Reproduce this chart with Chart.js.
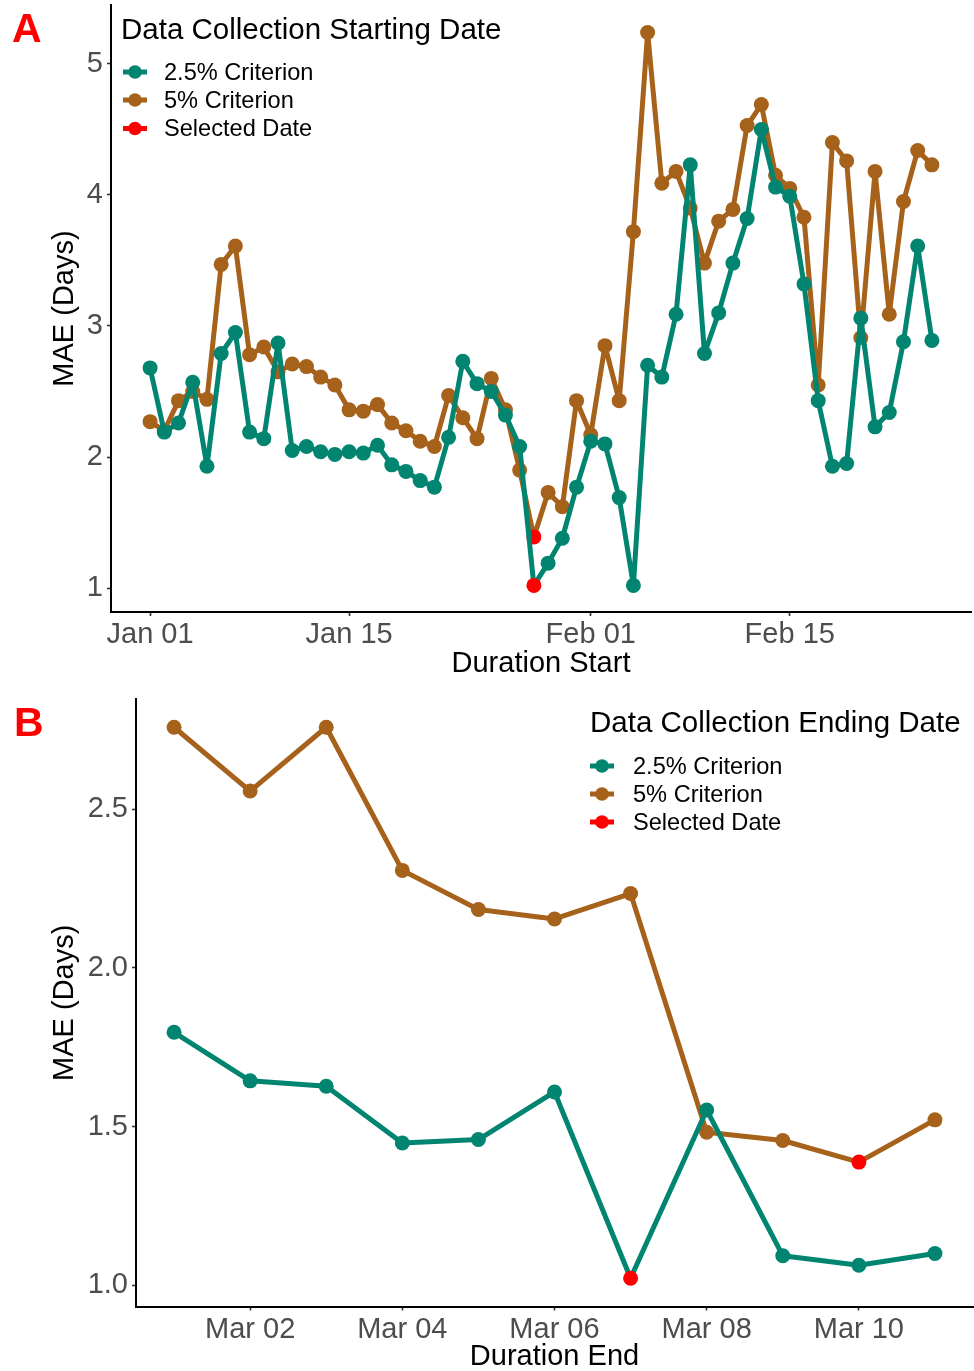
<!DOCTYPE html>
<html>
<head>
<meta charset="utf-8">
<title>MAE by data collection window</title>
<script src="https://cdn.jsdelivr.net/npm/chart.js@4.4.0/dist/chart.umd.min.js"></script>
<style>
  html, body { margin: 0; padding: 0; background: #ffffff; overflow: hidden; }
  canvas { position: absolute; left: 0; }
</style>
</head>
<body>
<canvas id="chartA"></canvas>
<canvas id="chartB"></canvas>
<script>
// ---- Panel A: MAE by data collection starting date (day 0 = Jan 01) ----
const startTickDays   = [0, 14, 31, 45];
const startTickLabels = ['Jan 01', 'Jan 15', 'Feb 01', 'Feb 15'];
const startMae25 = [
  2.68, 2.19, 2.26, 2.57, 1.93, 2.79, 2.95, 2.19, 2.14, 2.87,
  2.05, 2.08, 2.04, 2.02, 2.04, 2.03, 2.09, 1.94, 1.89, 1.82,
  1.77, 2.15, 2.73, 2.56, 2.50, 2.32, 2.08, 1.02, 1.19, 1.38,
  1.77, 2.12, 2.10, 1.69, 1.02, 2.70, 2.61, 3.09, 4.23, 2.79,
  3.10, 3.48, 3.82, 4.50, 4.06, 3.99, 3.32, 2.43, 1.93, 1.95,
  3.06, 2.23, 2.34, 2.88, 3.61, 2.89
];
const startMae5 = [
  2.27, 2.20, 2.43, 2.50, 2.44, 3.47, 3.61, 2.78, 2.84, 2.65,
  2.71, 2.69, 2.61, 2.55, 2.36, 2.35, 2.40, 2.26, 2.20, 2.12,
  2.08, 2.47, 2.30, 2.14, 2.60, 2.36, 1.90, 1.39, 1.73, 1.62,
  2.43, 2.17, 2.85, 2.43, 3.72, 5.24, 4.09, 4.18, 3.90, 3.48,
  3.80, 3.89, 4.53, 4.69, 4.15, 4.05, 3.83, 2.55, 4.40, 4.26,
  2.91, 4.18, 3.09, 3.95, 4.34, 4.23
];
const startSelected25 = 27;   // Jan 28
const startSelected5  = 27;   // Jan 28
const startYTicks  = [1, 2, 3, 4, 5];
const startYLabels = ['1', '2', '3', '4', '5'];

// ---- Panel B: MAE by data collection ending date (day 0 = Mar 01) ----
const endTickDays   = [1, 3, 5, 7, 9];
const endTickLabels = ['Mar 02', 'Mar 04', 'Mar 06', 'Mar 08', 'Mar 10'];
const endMae25 = [1.797, 1.644, 1.627, 1.448, 1.459, 1.609, 1.022, 1.552, 1.093, 1.063, 1.100];
const endMae5  = [2.758, 2.557, 2.758, 2.307, 2.184, 2.154, 2.234, 1.482, 1.456, 1.388, 1.521];
const endSelected25 = 6;      // Mar 07
const endSelected5  = 9;      // Mar 10
const endYTicks  = [1.0, 1.5, 2.0, 2.5];
const endYLabels = ['1.0', '1.5', '2.0', '2.5'];

const seriesNames = ['2.5% Criterion', '5% Criterion', 'Selected Date'];

// ---- styling ----
const GREEN = '#018571', BROWN = '#a6611a', RED = '#ff0000';
const FONT = '"Liberation Sans", Arial, Helvetica, sans-serif';
const W = 974;

function toPoints(values) {
  return values.map((v, i) => ({ x: i, y: v }));
}

function series(label, values, color, selected) {
  const pick = ctx => (ctx.dataIndex === selected ? RED : color);
  return {
    label,
    data: toPoints(values),
    borderColor: color,
    borderWidth: 5,
    borderJoinStyle: 'round',
    borderCapStyle: 'round',
    pointRadius: 7.5,
    pointHoverRadius: 7.5,
    pointBorderWidth: 0,
    pointBackgroundColor: pick,
    pointBorderColor: pick,
    tension: 0,
    fill: false
  };
}

// legend + panel letter drawn onto the canvas
const decorations = {
  id: 'decorations',
  afterDraw(chart, args, o) {
    const ctx = chart.ctx;
    ctx.save();
    // panel letter
    ctx.fillStyle = RED;
    ctx.font = 'bold 41px ' + FONT;
    ctx.textBaseline = 'alphabetic';
    ctx.textAlign = 'left';
    ctx.fillText(o.letter, o.letterX, o.letterY);
    // legend title
    ctx.fillStyle = '#000000';
    ctx.font = o.titleSize + 'px ' + FONT;
    ctx.textBaseline = 'middle';
    ctx.fillText(o.title, o.titleX, o.titleY);
    // legend keys
    ctx.font = o.itemSize + 'px ' + FONT;
    o.items.forEach((it, i) => {
      const y = o.itemY[i];
      ctx.strokeStyle = it.color;
      ctx.lineWidth = 5;
      ctx.beginPath();
      ctx.moveTo(o.keyX - o.keyHalf, y);
      ctx.lineTo(o.keyX + o.keyHalf, y);
      ctx.stroke();
      ctx.fillStyle = it.color;
      ctx.beginPath();
      ctx.arc(o.keyX, y, 6.8, 0, Math.PI * 2);
      ctx.fill();
      ctx.fillStyle = '#000000';
      ctx.fillText(it.label, o.textX, y + 1);
    });
    ctx.restore();
  }
};

function axisX(min, max, tickDays, tickLabels, title, boxHeight, titlePad) {
  return {
    type: 'linear', min, max,
    afterBuildTicks: s => { s.ticks = tickDays.map(v => ({ value: v })); },
    afterFit: s => { s.height = boxHeight; s.paddingLeft = 0; s.paddingRight = 0; },
    grid: { display: true, drawOnChartArea: false, drawTicks: true, tickLength: 4, tickColor: '#333333', tickWidth: 1.6 },
    border: { display: true, color: '#000000', width: 2 },
    ticks: {
      autoSkip: false, maxRotation: 0, padding: 2, color: '#4d4d4d',
      font: { family: FONT, size: 29 },
      callback: v => tickLabels[tickDays.indexOf(v)]
    },
    title: {
      display: true, text: title, color: '#000000',
      font: { family: FONT, size: 29, lineHeight: 1 },
      padding: { top: 0, bottom: titlePad }
    }
  };
}

function axisY(min, max, ticks, labels, boxWidth) {
  return {
    type: 'linear', min, max,
    afterBuildTicks: s => { s.ticks = ticks.map(v => ({ value: v })); },
    afterFit: s => { s.width = boxWidth; s.paddingTop = 0; s.paddingBottom = 0; },
    grid: { display: true, drawOnChartArea: false, drawTicks: true, tickLength: 4, tickColor: '#333333', tickWidth: 1.6 },
    border: { display: true, color: '#000000', width: 2 },
    ticks: {
      padding: 4, color: '#4d4d4d',
      font: { family: FONT, size: 29 },
      callback: v => labels[ticks.indexOf(v)]
    },
    title: {
      display: true, text: 'MAE (Days)', color: '#000000',
      font: { family: FONT, size: 29, lineHeight: 1 },
      padding: { top: 65 - 14.5, bottom: 0 }
    }
  };
}

function makeChart(id, top, height, cfg) {
  const canvas = document.getElementById(id);
  canvas.width = W;
  canvas.height = height;
  canvas.style.top = top + 'px';
  return new Chart(canvas, {
    type: 'line',
    data: { datasets: [
      series(seriesNames[0], cfg.mae25, GREEN, cfg.sel25),
      series(seriesNames[1], cfg.mae5, BROWN, cfg.sel5)
    ] },
    options: {
      responsive: false,
      devicePixelRatio: 1,
      animation: false,
      events: [],
      layout: { padding: cfg.padding, autoPadding: false },
      plugins: {
        legend: { display: false },
        tooltip: { enabled: false },
        decorations: cfg.legend
      },
      scales: { x: cfg.x, y: cfg.y }
    },
    plugins: [decorations]
  });
}

const legendItems = [
  { label: seriesNames[0], color: GREEN },
  { label: seriesNames[1], color: BROWN },
  { label: seriesNames[2], color: RED }
];

makeChart('chartA', 0, 690, {
  mae25: startMae25, mae5: startMae5, sel25: startSelected25, sel5: startSelected5,
  padding: { left: 0, right: W - 971, top: 5, bottom: 0 },
  x: axisX(-2.75, 57.75, startTickDays, startTickLabels, 'Duration Start', 78, 11.5),
  y: axisY(0.817, 5.45, startYTicks, startYLabels, 111),
  legend: {
    letter: 'A', letterX: 12, letterY: 41.7,
    title: 'Data Collection Starting Date', titleSize: 29.5, titleX: 121, titleY: 31,
    itemSize: 23.6, items: legendItems, itemY: [72, 100, 128.5],
    keyX: 135, keyHalf: 12, textX: 164
  }
});

makeChart('chartB', 690, 681, {
  mae25: endMae25, mae5: endMae5, sel25: endSelected25, sel5: endSelected5,
  padding: { left: 0, right: W - 973, top: 9, bottom: 0 },
  x: axisX(-0.5, 10.5, endTickDays, endTickLabels, 'Duration End', 64.5, -0.5),
  y: axisY(0.933, 2.847, endYTicks, endYLabels, 136),
  legend: {
    letter: 'B', letterX: 14, letterY: 45.6,
    title: 'Data Collection Ending Date', titleSize: 29.5, titleX: 590, titleY: 34,
    itemSize: 23.6, items: legendItems, itemY: [76, 104, 132],
    keyX: 602, keyHalf: 12, textX: 633
  }
});
</script>
</body>
</html>
